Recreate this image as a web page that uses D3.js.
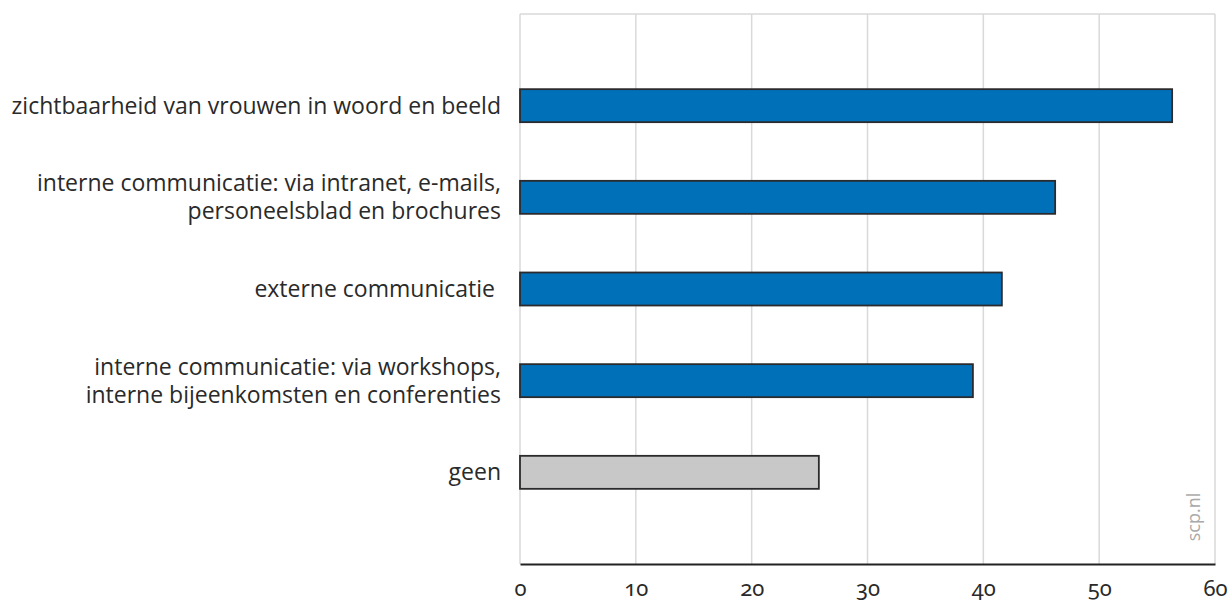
<!DOCTYPE html>
<html>
<head>
<meta charset="utf-8">
<script src="https://cdn.jsdelivr.net/npm/d3@7"></script>
<style>
  body { margin: 0; background: #fff; }
  svg { display: block; font-family: "Open Sans", "Noto Sans", sans-serif; }
</style>
</head>
<body>
<svg id="chart" width="1229" height="604"></svg>
<script>
// labels (multi-line labels split on |)
const categories = [
  "zichtbaarheid van vrouwen in woord en beeld",
  "interne communicatie: via intranet, e-mails,|personeelsblad en brochures",
  "externe communicatie ",
  "interne communicatie: via workshops,|interne bijeenkomsten en conferenties",
  "geen"
];
const values = [56.3, 46.2, 41.6, 39.1, 25.8];
const highlight = [true, true, true, true, false];
const xTicks = [0, 10, 20, 30, 40, 50, 60];

const margin = { top: 14, right: 14, bottom: 40, left: 520 };
const svg = d3.select('#chart');
const width = +svg.attr('width');
const height = +svg.attr('height');

const x = d3.scaleLinear().domain([0, 60]).range([margin.left, width - margin.right]);
const y = d3.scalePoint().domain(categories).range([margin.top, height - margin.bottom]).padding(1);
const barH = 33;

// grid
const grid = svg.append('g');
grid.selectAll('line')
  .data(xTicks)
  .enter().append('line')
  .attr('x1', d => x(d)).attr('x2', d => x(d))
  .attr('y1', margin.top).attr('y2', height - margin.bottom)
  .attr('stroke', '#d9d9d9').attr('stroke-width', 1.5);
grid.append('line')
  .attr('x1', x(0)).attr('x2', x(60))
  .attr('y1', margin.top).attr('y2', margin.top)
  .attr('stroke', '#d9d9d9').attr('stroke-width', 1.5);

// bars
svg.append('g').selectAll('rect')
  .data(values)
  .enter().append('rect')
  .attr('x', x(0))
  .attr('y', (d, i) => y(categories[i]) - barH / 2)
  .attr('width', d => x(d) - x(0))
  .attr('height', barH)
  .attr('fill', (d, i) => highlight[i] ? '#0070b9' : '#c8c8c9')
  .attr('stroke', '#2b2b2e')
  .attr('stroke-width', 1.8);

// category labels
const lineH = 28;
svg.append('g').selectAll('text')
  .data(categories)
  .enter().append('text')
  .attr('text-anchor', 'end')
  .attr('font-size', 23)
  .attr('fill', '#2a2a2a')
  .style('white-space', 'pre')
  .each(function (d) {
    const lines = d.split('|');
    const t = d3.select(this);
    const y0 = y(d) - (lines.length - 1) * lineH / 2;
    lines.forEach((ln, k) => {
      t.append('tspan')
        .attr('x', 501)
        .attr('y', y0 + k * lineH)
        .attr('dy', '0.35em')
        .text(ln);
    });
  });

// x axis
const axis = svg.append('g')
  .attr('transform', `translate(0,${height - margin.bottom})`)
  .call(d3.axisBottom(x).tickValues(xTicks).tickSize(0).tickPadding(16).tickFormat(d3.format('d')));
axis.select('.domain').attr('stroke', '#222').attr('stroke-width', 2);
axis.selectAll('text')
  .attr('font-size', 22)
  .attr('fill', '#2a2a2a')
  .style('font-family', '"Noto Sans", "Open Sans", sans-serif')
  .style('font-variant-numeric', 'oldstyle-nums');

// source
svg.append('text')
  .attr('transform', `translate(1200,517) rotate(-90)`)
  .attr('text-anchor', 'middle')
  .attr('font-size', 18)
  .attr('fill', '#a9a9a9')
  .text('scp.nl');
</script>
</body>
</html>
